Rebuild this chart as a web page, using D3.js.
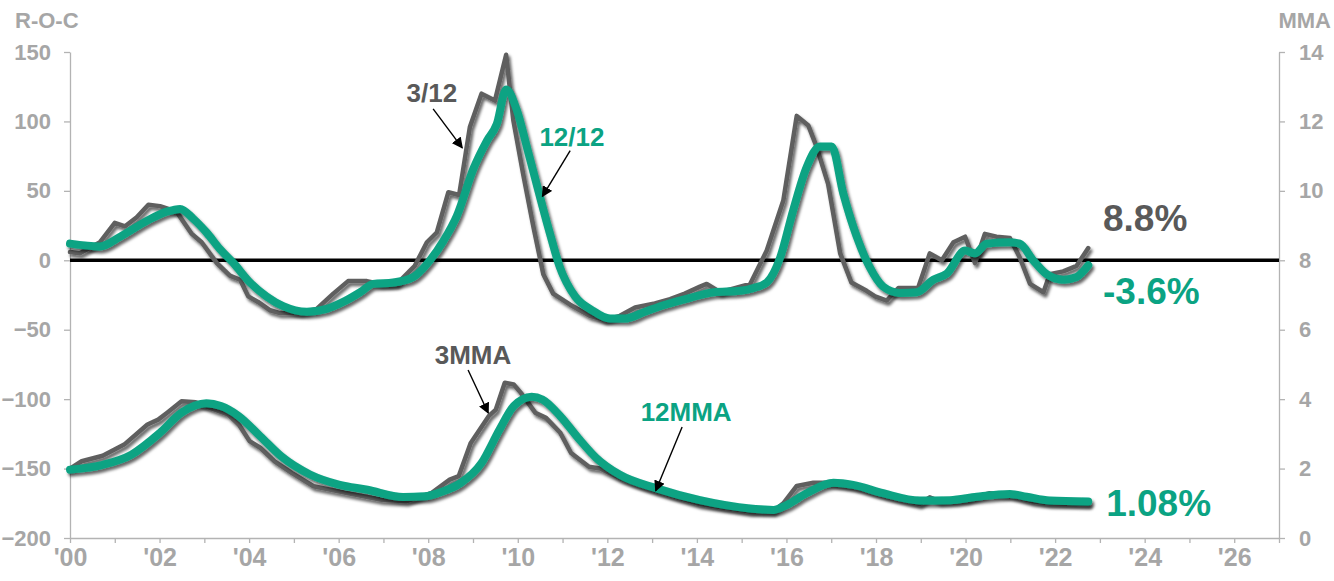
<!DOCTYPE html>
<html><head><meta charset="utf-8">
<script src="https://cdn.jsdelivr.net/npm/d3@7"></script>
<style>
html,body{margin:0;padding:0;background:#fff;}
svg{display:block;}
text{font-family:"Liberation Sans",Arial,sans-serif;font-weight:bold;}
</style></head>
<body><svg id="c" width="1334" height="581"></svg>
<script>
// ---- data (decimal years) ----
const roc3Dates = [2000.00,2000.22,2000.67,2001.00,2001.23,2001.49,2001.75,2002.01,2002.38,2002.72,2002.94,2003.28,2003.57,2003.80,2003.98,2004.20,2004.47,2004.69,2005.14,2005.51,2005.88,2006.21,2006.63,2006.92,2007.30,2007.70,2007.97,2008.19,2008.45,2008.69,2008.93,2009.19,2009.49,2009.74,2009.90,2010.12,2010.35,2010.57,2010.79,2011.17,2011.61,2011.95,2012.28,2012.62,2013.06,2013.40,2013.73,2014.07,2014.22,2014.52,2015.19,2015.56,2015.93,2016.23,2016.49,2016.67,2016.93,2017.20,2017.45,2017.79,2017.98,2018.24,2018.50,2018.94,2019.20,2019.47,2019.73,2019.99,2020.21,2020.43,2020.69,2020.99,2021.21,2021.44,2021.74,2021.88,2022.18,2022.48,2022.74];
const roc3Values = [6,5,13,27,24.5,31,40,39,35,19,13,-2,-11,-14,-26,-30,-36,-38,-38,-35,-24,-15,-15,-17,-17,-4,13,20,49,47,96,120,115,148,101,62,24,-10,-24,-32,-40,-43,-40,-34,-31,-28,-24,-19,-17,-23,-17,7,43,104,97,82,55,5,-16,-22,-26,-29,-20,-20,5,0,13,17,-2,19,17,16,2,-17,-23,-10,-8,-4,8.8];

const roc12Dates = [2000.00,2000.67,2001.12,2001.75,2002.16,2002.46,2002.75,2003.05,2003.35,2003.65,2004.02,2004.39,2004.76,2005.29,2005.73,2006.10,2006.48,2006.77,2007.22,2007.67,2008.04,2008.34,2008.64,2009.01,2009.31,2009.53,2009.74,2009.98,2010.20,2010.46,2010.72,2010.94,2011.28,2011.66,2012.06,2012.39,2012.84,2013.29,2013.85,2014.37,2014.96,2015.26,2015.56,2015.86,2016.15,2016.45,2016.75,2017.01,2017.27,2017.57,2017.86,2018.16,2018.53,2018.91,2019.28,2019.58,2019.99,2020.21,2020.47,2020.99,2021.21,2021.51,2021.81,2022.18,2022.48,2022.74];
const roc12Values = [12,10,17,29,35,37,30,20,8,-2,-16,-26,-33,-37,-35,-30,-23,-17,-16,-12,0,14,32,66,86,98,123,108,82,50,19,-5,-26,-36,-42,-42,-37,-32,-27,-23,-22,-20,-16,2,36,67,82,82,48,17,-5,-19,-23.5,-23,-14,-9.6,7,5,12,13,12,0,-10,-14,-12,-3.6];

const mma3Dates = [2000.00,2000.26,2000.73,2001.21,2001.73,2001.97,2002.17,2002.49,2002.81,2003.13,2003.53,2003.77,2004.01,2004.25,2004.57,2004.96,2005.44,2006.16,2006.96,2007.52,2008.08,2008.48,2008.68,2008.95,2009.35,2009.51,2009.71,2009.91,2010.07,2010.39,2010.63,2010.95,2011.19,2011.59,2011.84,2012.29,2012.58,2013.10,2014.07,2015.19,2015.71,2015.93,2016.23,2016.60,2016.97,2017.49,2018.16,2018.98,2019.20,2019.43,2020.02,2020.54,2020.99,2021.51,2021.88,2022.74];
const mma3Values = [2.00,2.21,2.37,2.69,3.27,3.41,3.61,3.94,3.91,3.75,3.56,3.27,2.79,2.60,2.21,1.87,1.49,1.30,1.10,1.06,1.30,1.68,1.78,2.74,3.51,3.70,4.47,4.42,4.18,3.61,3.46,3.03,2.45,2.05,2.00,1.72,1.58,1.35,0.98,0.76,0.78,1.00,1.50,1.59,1.59,1.48,1.24,0.98,1.17,1.05,1.11,1.29,1.24,1.05,1.00,0.98];

const mma12Dates = [2000.00,2000.73,2001.37,2002.01,2002.49,2003.05,2003.37,2003.77,2004.25,2004.72,2005.36,2006.00,2006.64,2007.44,2007.92,2008.32,2008.72,2009.19,2009.59,2009.91,2010.31,2010.55,2010.95,2011.35,2011.75,2012.28,2013.10,2014.07,2015.19,2015.71,2016.00,2016.45,2017.05,2017.49,2018.16,2018.98,2019.65,2020.25,2020.99,2021.36,2021.88,2022.74];
const mma12Values = [1.97,2.11,2.40,3.03,3.61,3.88,3.80,3.51,2.93,2.35,1.83,1.54,1.39,1.18,1.20,1.34,1.58,2.16,3.12,3.80,4.07,3.99,3.51,2.88,2.31,1.82,1.43,1.09,0.85,0.81,0.95,1.29,1.59,1.53,1.29,1.08,1.09,1.19,1.27,1.19,1.08,1.05];

const xTickYears = d3.range(2000, 2028);
const xLabelYears = [2000,2002,2004,2006,2008,2010,2012,2014,2016,2018,2020,2022,2024,2026];
const xTickLabels = ["'00","'02","'04","'06","'08","'10","'12","'14","'16","'18","'20","'22","'24","'26"];
const leftTicks = [-200,-150,-100,-50,0,50,100,150];
const rightTicks = [0,2,4,6,8,10,12,14];

const GREEN = "#0ba383", GRAY = "#5f5f5f", AXIS = "#b3b3b3", LABEL = "#a6a6a6", DARK = "#595959";

const svg = d3.select("#c");
const defs = svg.append("defs");
const f = defs.append("filter").attr("id","sh").attr("x","-5%").attr("y","-5%").attr("width","110%").attr("height","120%");
f.append("feDropShadow").attr("dx",2).attr("dy",3).attr("stdDeviation",1.8).attr("flood-color","#000").attr("flood-opacity",0.6);
defs.append("marker").attr("id","ah").attr("viewBox","0 0 10 10").attr("refX",9).attr("refY",5)
  .attr("markerWidth",11).attr("markerHeight",11).attr("markerUnits","userSpaceOnUse").attr("orient","auto")
  .append("path").attr("d","M0,0 L10,5 L0,10 Z").attr("fill","#000");

const x = d3.scaleLinear().domain([2000, 2027]).range([70, 1279]);
const yL = d3.scaleLinear().domain([-200, 150]).range([538, 52]);
const yR = d3.scaleLinear().domain([0, 14]).range([538, 52]);

// axes
const gx = svg.append("g").attr("transform","translate(0,538)")
  .call(d3.axisBottom(x).tickValues(xTickYears).tickSize(5).tickSizeOuter(0).tickPadding(5)
    .tickFormat(d => { const i = xLabelYears.indexOf(d); return i >= 0 ? xTickLabels[i] : ""; }));
const gl = svg.append("g").attr("transform","translate(70,0)")
  .call(d3.axisLeft(yL).tickValues(leftTicks).tickSize(6).tickSizeOuter(0).tickPadding(13));
const gr = svg.append("g").attr("transform","translate(1279,0)")
  .call(d3.axisRight(yR).tickValues(rightTicks).tickSize(6).tickSizeOuter(0).tickPadding(14));
[gx,gl,gr].forEach(g => {
  g.select(".domain").attr("stroke",AXIS).attr("stroke-width",1.3);
  g.selectAll(".tick line").attr("stroke",AXIS).attr("stroke-width",1.3);
  g.selectAll(".tick text").attr("fill",LABEL).attr("font-size",22)
    .style("font-family","'Liberation Sans',Arial,sans-serif").style("font-weight","bold");
});
gx.selectAll(".tick text").attr("font-size",25)
  .style("font-family","'Liberation Sans Narrow','Arial Narrow','Liberation Sans',sans-serif")
  .style("font-stretch","condensed");

svg.append("text").attr("x",15).attr("y",28).attr("fill",LABEL).attr("font-size",22).text("R-O-C");
svg.append("text").attr("x",1331).attr("y",28).attr("text-anchor","end").attr("fill",LABEL).attr("font-size",22).text("MMA");

// zero line
svg.append("line").attr("x1",x(2000)).attr("x2",x(2027)).attr("y1",yL(0)).attr("y2",yL(0))
  .attr("stroke","#000").attr("stroke-width",3.5);

function draw(dates, vals, y, color, w, curve){
  const data = dates.map((d,i)=>[d, vals[i]]);
  svg.append("path").datum(data)
    .attr("d", d3.line().x(d=>x(d[0])).y(d=>y(d[1])).curve(curve))
    .attr("fill","none").attr("stroke",color).attr("stroke-width",w)
    .attr("stroke-linejoin","round").attr("stroke-linecap","round").attr("filter","url(#sh)");
}
draw(mma3Dates, mma3Values, yR, GRAY, 4.5, d3.curveLinear);
draw(mma12Dates, mma12Values, yR, GREEN, 8, d3.curveMonotoneX);
draw(roc3Dates, roc3Values, yL, GRAY, 4.5, d3.curveLinear);
draw(roc12Dates, roc12Values, yL, GREEN, 8, d3.curveMonotoneX);

// annotations
function label(t, yr, v, y, color, size, anchor){
  svg.append("text").attr("x",x(yr)).attr("y",y(v)).attr("dy","0.36em").attr("text-anchor",anchor)
    .attr("fill",color).attr("font-size",size).text(t);
}
function arrow(y1r,v1,y2r,v2,y){
  svg.append("line").attr("x1",x(y1r)).attr("y1",y(v1)).attr("x2",x(y2r)).attr("y2",y(v2))
    .attr("stroke","#000").attr("stroke-width",1.4).attr("marker-end","url(#ah)");
}
label("3/12", 2008.08, 121, yL, DARK, 26, "middle");
arrow(2008.11, 109, 2008.76, 81, yL);
label("12/12", 2011.21, 89.3, yL, GREEN, 26, "middle");
arrow(2011.17, 79, 2010.55, 46, yL);
label("3MMA", 2009.0, 5.27, yR, DARK, 26, "middle");
arrow(2008.89, 4.84, 2009.34, 3.60, yR);
label("12MMA", 2013.76, 3.63, yR, GREEN, 26, "middle");
arrow(2013.67, 3.20, 2013.08, 1.36, yR);
label("8.8%", 2023.07, 31, yL, DARK, 37, "start");
label("-3.6%", 2023.07, -21.6, yL, GREEN, 37, "start");
label("1.08%", 2023.14, 1.01, yR, GREEN, 37, "start");
</script></body></html>
